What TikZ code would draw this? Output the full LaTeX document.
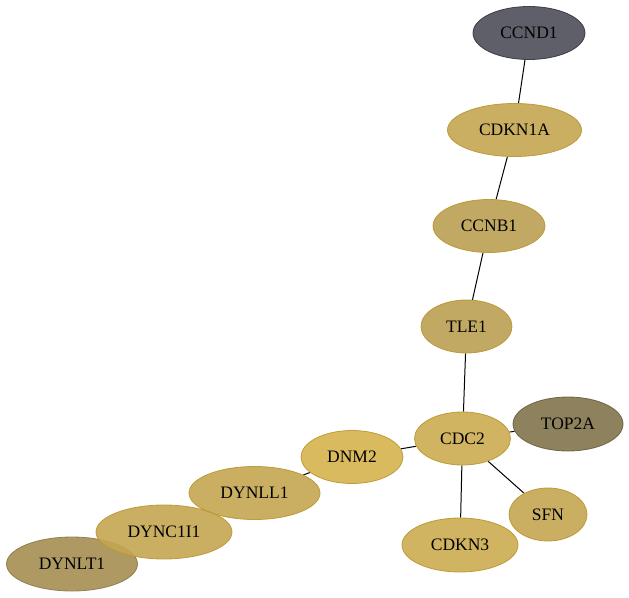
\documentclass[tikz,border=0pt]{standalone}
\usepackage{fontspec}
\setmainfont{Liberation Serif}
\usetikzlibrary{shapes.geometric,backgrounds}
\definecolor{cgray}{HTML}{4E4E59}
\definecolor{cgrayd}{HTML}{33333F}
\definecolor{cgold}{HTML}{C4A652}
\definecolor{cgoldb}{HTML}{CCAC50}
\definecolor{cgoldl}{HTML}{D6B34C}
\definecolor{cgoldm}{HTML}{BBA052}
\definecolor{cbrown}{HTML}{A68E52}
\definecolor{colive}{HTML}{82744C}
\definecolor{cedge}{HTML}{B8962E}
\begin{document}
\begin{tikzpicture}[x=1pt,y=-1pt,font=\fontsize{17.5}{20}\selectfont,line join=round,line cap=round,
	gene/.style={ellipse,draw=cedge,line width=0.8pt,fill opacity=0.9,draw opacity=0.9,text opacity=1,inner sep=0pt,minimum height=53pt},
	link/.style={black,line width=1pt}]
	\useasboundingbox (0,0) rectangle (629,597);
	\node[gene,fill=cgray,draw=cgrayd,minimum width=112pt] (ccnd1) at (529,33) {CCND1};
	\node[gene,fill=cgold,minimum width=134pt] (cdkn1a) at (514.5,130) {CDKN1A};
	\node[gene,fill=cgoldm,minimum width=112pt] (ccnb1) at (489,226) {CCNB1};
	\node[gene,fill=cgoldm,minimum width=91pt] (tle1) at (466.5,326.5) {TLE1};
	\node[gene,fill=cgoldb,minimum width=96pt] (cdc2) at (462.5,438.5) {CDC2};
	\node[gene,fill=colive,draw=colive!80!black,minimum width=110pt,minimum height=54pt] (top2a) at (568,424) {TOP2A};
	\node[gene,fill=cgold,minimum width=78pt] (sfn) at (548,514.5) {SFN};
	\node[gene,fill=cgoldb,minimum width=116pt,minimum height=54pt] (cdkn3) at (460,545) {CDKN3};
	\node[gene,fill=cgoldl,minimum width=102pt] (dnm2) at (352,457) {DNM2};
	\node[gene,fill=cgold,minimum width=131pt] (dynll1) at (254.5,493) {DYNLL1};
	\node[gene,fill=cbrown,draw=cbrown!85!black,minimum width=131pt,minimum height=54pt] (dynlt1) at (72,564) {DYNLT1};
	\node[gene,fill=cgold,minimum width=136pt,minimum height=54pt] (dync1i1) at (164,532) {DYNC1I1};
	\begin{scope}[on background layer]
	\draw[link] (ccnd1)--(cdkn1a)--(ccnb1)--(tle1)--(cdc2);
	\draw[link] (cdc2)--(top2a) (cdc2)--(sfn) (cdc2)--(cdkn3) (cdc2)--(dnm2)--(dynll1)--(dync1i1)--(dynlt1);
	\end{scope}
\end{tikzpicture}
\end{document}
